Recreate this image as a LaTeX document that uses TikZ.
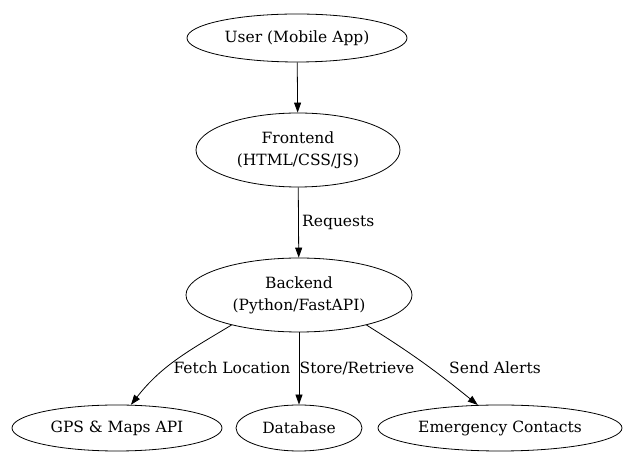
\documentclass[tikz,border=0pt]{standalone}
\usepackage{fontspec}
\setmainfont{DejaVu Serif}
\usetikzlibrary{shapes.geometric,arrows.meta}

\begin{document}
\begin{tikzpicture}[x=1pt,y=1pt,
  oval/.style={draw=black,ellipse,line width=0.8pt,inner sep=0pt,align=center,
    font=\fontsize{15.5}{22}\selectfont},
  edge/.style={line width=0.8pt,-{Triangle[length=10pt,width=7pt]}},
  lbl/.style={font=\fontsize{15.5}{18}\selectfont}]
  \useasboundingbox (0,0) rectangle (624,452);

  \node[oval,minimum width=220,minimum height=48](user)     at (297,414) {User (Mobile App)};
  \node[oval,minimum width=204,minimum height=74](frontend) at (298,302) {Frontend\\(HTML/CSS/JS)};
  \node[oval,minimum width=226,minimum height=74](backend)  at (299,157) {Backend\\(Python/FastAPI)};

  \node[oval,minimum width=210,minimum height=46](gps)       at (117,24) {GPS \& Maps API};
  \node[oval,minimum width=126,minimum height=46](database)  at (299,24) {Database};
  \node[oval,minimum width=244,minimum height=46](emergency) at (500,24) {Emergency Contacts};

  \draw[edge] (user)--(frontend);
  \draw[edge] (frontend)-- node[lbl,right](requests){Requests} (backend);

  \draw[edge] (backend.204) to[out=211,in=52] (gps.59);
  \draw[edge] (backend)--(database);
  \draw[edge] (backend.336) to[out=-32,in=141] (emergency.134);

  \node[lbl](fetch)  at (232,84) {Fetch Location};
  \node[lbl](store)  at (357,84) {Store/Retrieve};
  \node[lbl](alerts) at (495,84) {Send Alerts};
\end{tikzpicture}
\end{document}
